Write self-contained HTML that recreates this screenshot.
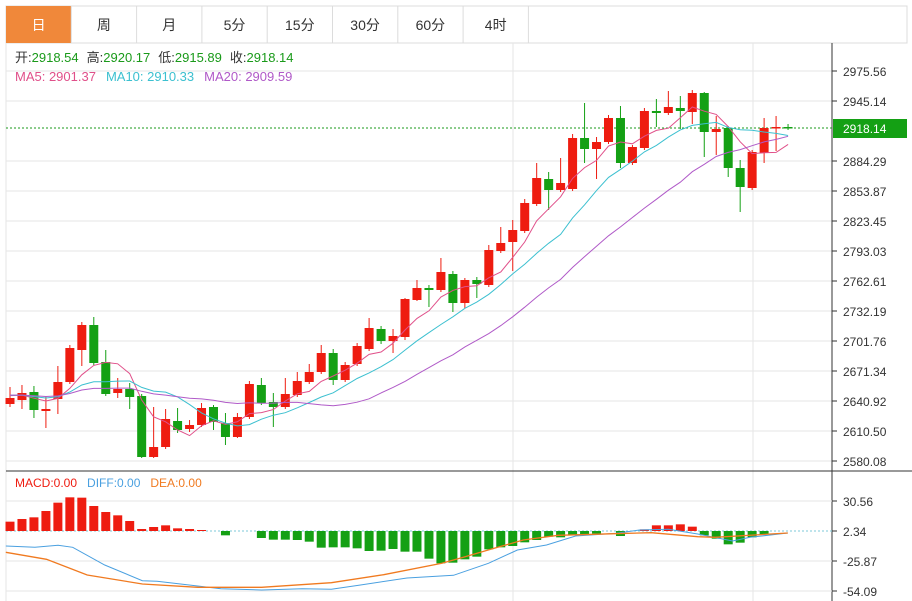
<!DOCTYPE html>
<html><head><meta charset="utf-8">
<style>
body{margin:0;width:912px;height:601px;background:#fff;overflow:hidden;font-family:"Liberation Sans","Noto Sans CJK SC",sans-serif;}
svg{position:absolute;left:0;top:0}
</style></head><body>
<svg id="s" width="912" height="601" xmlns="http://www.w3.org/2000/svg"></svg>
<script>
const C=[ // open y, close y, high y, low y
[404,398,387,407],[400,393,385,409],[392,410,386,418],[411,409,397,428],[399,382,366,414],
[382,348,345,384],[350,325,322,366],[325,363,317,365],[362,394,350,396],[393,389,378,398],
[389,397,383,409],[396,457,394,458],[457,447,407,458],[447,419,409,449],[421,430,408,433],
[429,425,420,432],[425,408,403,427],[407,422,405,430],[423,437,413,445],[437,417,413,438],
[417,384,381,419],[385,403,378,405],[402,407,393,427],[407,394,378,409],[395,381,372,397],
[382,372,364,384],[372,353,345,374],[353,380,349,385],[380,365,362,382],[364,346,343,366],
[349,328,318,351],[329,341,326,344],[341,336,329,353],[337,299,298,340],[300,288,280,301],
[288,290,285,307],[290,272,258,292],[274,303,271,312],[303,280,278,308],[280,284,277,298],
[285,250,245,287],[251,243,227,253],[242,230,220,271],[231,203,199,233],[204,178,163,206],
[179,190,172,210],[190,183,158,192],[189,138,134,191],[138,149,103,163],[149,142,137,179],
[142,118,115,144],[118,163,106,168],[163,147,145,165],[148,111,108,150],[111,113,99,127],
[113,107,91,115],[108,111,96,129],[112,93,90,124],[93,132,92,157],[132,129,116,155],
[128,168,126,177],[168,187,160,212],[188,152,150,190],[153,128,118,163],[128,127,116,151],[127,128,124,130]];
const X=i=>10+i*11.97;
let h='';
const L=(x1,y1,x2,y2,c,w,d)=>`<line x1="${x1}" y1="${y1}" x2="${x2}" y2="${y2}" stroke="${c}" stroke-width="${w||1}" ${d?'stroke-dasharray="'+d+'"':''}/>`;
const T=(x,y,t,c,s,a)=>`<text x="${x}" y="${y}" fill="${c}" font-size="${s||12}" ${a?'text-anchor="'+a+'"':''}>${t}</text>`;
// tabs
h+=`<rect x="6" y="6" width="901" height="37" fill="#fff" stroke="#dcdcdc"/>`;
const tabs=['日','周','月','5分','15分','30分','60分','4时'];
for(let i=0;i<8;i++){let x=6+i*65.3;
 if(i==0)h+=`<rect x="6" y="6" width="65" height="37" fill="#f0883a"/>`;
 else h+=L(x,6,x,43,'#dcdcdc');
 h+=T(x+32.6,30,tabs[i],i==0?'#fff':'#333',14,'middle');}
h+=L(x=6+8*65.3,6,6+8*65.3,43,'#dcdcdc');
// grids
const py=[[71,'2975.56'],[101,'2945.14'],[161,'2884.29'],[191,'2853.87'],[221,'2823.45'],[251,'2793.03'],[281,'2762.61'],[311,'2732.19'],[341,'2701.76'],[371,'2671.34'],[401,'2640.92'],[431,'2610.50'],[461,'2580.08']];
for(const [y,t] of py){h+=L(6,y,832,y,'#e6e6e6');h+=L(832,y,837,y,'#333');h+=T(843,y+5,t,'#333',12);}
h+=L(6,43,6,601,'#e6e6e6');
h+=L(513,43,513,601,'#e6e6e6');h+=L(753,43,753,601,'#e6e6e6');
h+=L(832,43,832,601,'#333');
h+=L(6,471,912,471,'#333');
const my=[[501,'30.56'],[531,'2.34'],[561,'-25.87'],[591,'-54.09']];
for(const [y,t] of my){if(y!=531)h+=L(6,y,832,y,'#e6e6e6');h+=L(832,y,837,y,'#333');h+=T(843,y+5,t,'#333',12);}
h+=L(6,531,832,531,'#7cc8d8',1,'2,2');
// header
h+=`<text x="15" y="62" font-size="13"><tspan fill="#333">开:</tspan><tspan fill="#1a9a1a">2918.54</tspan><tspan fill="#333" dx="8">高:</tspan><tspan fill="#1a9a1a">2920.17</tspan><tspan fill="#333" dx="8">低:</tspan><tspan fill="#1a9a1a">2915.89</tspan><tspan fill="#333" dx="8">收:</tspan><tspan fill="#1a9a1a">2918.14</tspan></text>`;
h+=`<text x="15" y="81" font-size="13"><tspan fill="#e0508a">MA5: 2901.37</tspan><tspan fill="#3cc0d0" dx="10">MA10: 2910.33</tspan><tspan fill="#b05ac8" dx="10">MA20: 2909.59</tspan></text>`;
// current price line
h+=L(6,128,832,128,'#1a9a1a',1,'2,2');
h+=`<rect x="833" y="119" width="74" height="19" fill="#14a014"/>`+T(843,133,'2918.14','#fff',12);
// candles
const R='#ee1c10',G='#14a014';
C.forEach((c,i)=>{const x=X(i);const up=c[1]<c[0];const col=up?R:G;
 h+=L(x,c[2],x,c[3],col,1);
 const t=Math.min(c[0],c[1]),b=Math.max(c[0],c[1]);
 h+=`<rect x="${x-4.5}" y="${t}" width="9" height="${Math.max(b-t,1.5)}" fill="${col}"/>`;});
// MAs
const cl=C.map(c=>c[1]);const pad=Array(20).fill(395);const all=pad.concat(cl);
function ma(n,col){let p=[];for(let i=0;i<cl.length;i++){let s=0;for(let k=0;k<n;k++)s+=all[20+i-k];p.push(X(i).toFixed(1)+','+(s/n).toFixed(1));}
 h+=`<polyline points="${p.join(' ')}" fill="none" stroke="${col}" stroke-width="1"/>`;}
ma(5,'#e0508a');ma(10,'#3cc0d0');ma(20,'#b05ac8');
// MACD
const red=[185,177,172,153,128,112,113,138,156,166,183,207,201,196,205,207,210];
red.forEach((z,i)=>{const y=460+z/3;h+=`<rect x="${X(i)-4.5}" y="${y}" width="9" height="${531-y}" fill="${R}"/>`;});
const gr={18:226,21:234,22:239,23:239,24:240,25:245,26:263,27:262,28:262,29:265,30:273,31:272,32:267,33:275,34:275,35:296,36:310,37:308,38:298,39:290,40:268,41:262,42:258,43:247,44:240,45:230,46:232,47:226,48:222,49:221,51:228,58:226,59:236,60:253,61:248,62:232,63:223};
for(const k in gr){const y=460+gr[k]/3;h+=`<rect x="${X(+k)-4.5}" y="531" width="9" height="${y-531}" fill="${G}"/>`;}
const rr={53:208,54:196,55:196,56:193,57:200,52:214};
for(const k in rr){const y=460+rr[k]/3;h+=`<rect x="${X(+k)-4.5}" y="${y}" width="9" height="${531-y}" fill="${R}"/>`;}
const cv=a=>a.map(p=>(p[0]/1.72).toFixed(1)+','+(460+p[1]/3).toFixed(1)).join(' ');
const blue=[[10,258],[60,262],[100,256],[125,262],[180,315],[245,362],[270,364],[340,378],[380,386],[450,390],[520,386],[570,388],[620,375],[700,354],[780,346],[840,310],[890,270],[940,255],[990,228],[1060,220],[1100,210],[1150,208],[1200,222],[1260,243],[1290,232],[1355,219]];
const org=[[10,277],[80,298],[150,345],[245,372],[340,382],[450,382],[570,368],[660,344],[760,310],[800,290],[850,265],[900,240],[960,226],[1080,220],[1120,218],[1200,230],[1230,232],[1355,219]];
h+=`<polyline points="${cv(blue)}" fill="none" stroke="#4aa0e0" stroke-width="1"/>`;
h+=`<polyline points="${cv(org)}" fill="none" stroke="#f07a20" stroke-width="1.3"/>`;
h+=`<text x="15" y="487" font-size="12"><tspan fill="#ee1c10">MACD:0.00</tspan><tspan fill="#4aa0e0" dx="10">DIFF:0.00</tspan><tspan fill="#f07a20" dx="10">DEA:0.00</tspan></text>`;
document.getElementById('s').innerHTML=h;
</script>
</body></html>
